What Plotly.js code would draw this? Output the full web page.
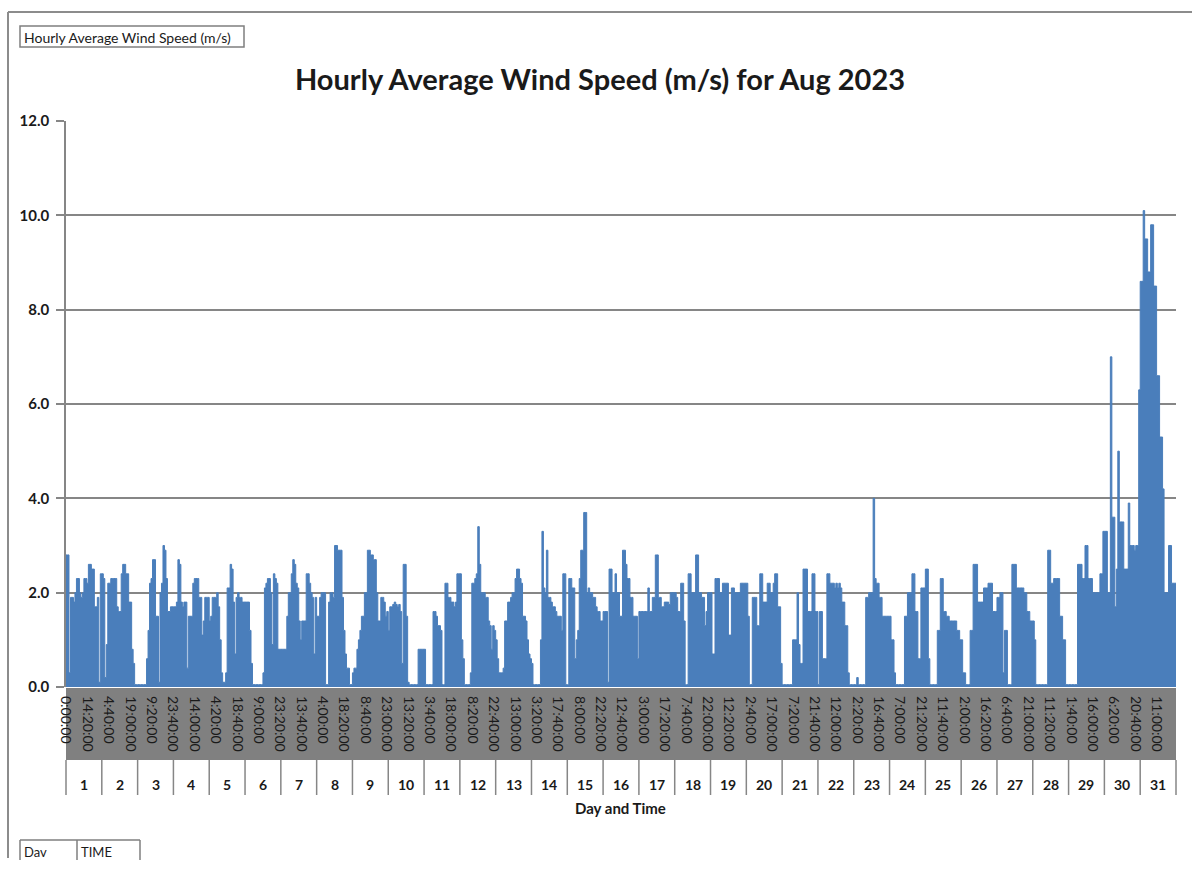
<!DOCTYPE html>
<html><head><meta charset="utf-8">
<script src="https://cdn.plot.ly/plotly-3.0.1.min.js"></script>
<style>html,body{margin:0;padding:0;background:#fff;}#chart{width:1192px;height:871px;}</style>
</head><body><div id="chart"></div>
<script>
// Hourly average wind speed (m/s), 24 values per day, Aug 2023
const day01 = [2.8,2.8,0.3,1.9,1.9,1.8,2.0,2.3,2.3,2.0,1.9,2.0,2.3,2.3,2.2,2.6,2.6,2.5,2.5,1.7,1.7,1.9,0.1,2.4];
const day02 = [2.4,2.3,0.2,0.9,2.2,2.2,2.3,2.3,2.3,2.3,1.7,1.6,1.6,2.4,2.6,2.6,2.4,2.4,1.8,1.8,0.8,0.5,0.05,0.05];
const day03 = [0.05,0.05,0.05,0.05,0.05,0.05,0.6,1.2,2.2,2.3,2.7,2.7,1.5,1.5,0.1,2.0,2.2,3.0,2.9,2.3,1.6,1.6,1.7,1.7];
const day04 = [1.7,1.7,1.8,2.7,2.6,1.8,1.7,1.8,1.8,0.4,1.5,1.5,1.5,2.2,2.3,2.3,2.3,1.9,1.9,1.1,1.4,1.9,1.9,1.9];
const day05 = [1.4,1.5,1.9,1.9,1.9,2.0,1.7,1.0,0.3,0.1,0.1,0.3,2.1,2.1,2.6,2.5,1.8,0.7,1.9,2.0,1.9,1.9,1.8,1.8];
const day06 = [1.8,1.8,1.8,1.2,0.5,0.05,0.05,0.05,0.05,0.05,0.05,0.05,0.3,2.1,2.2,2.3,2.3,2.0,0.9,2.4,2.3,2.2,0.8,0.8];
const day07 = [0.8,0.8,0.8,0.8,1.5,2.0,2.0,2.4,2.7,2.6,2.2,2.1,1.4,1.0,1.4,1.4,1.4,2.4,2.4,2.2,2.0,1.9,0.7,1.9];
const day08 = [1.5,1.5,1.9,2.0,2.0,2.0,0.05,0.05,1.8,2.0,2.0,1.9,3.0,3.0,2.9,2.9,2.9,1.9,1.2,0.7,0.4,0.4,0.05,0.05];
const day09 = [0.3,0.4,0.4,0.8,1.0,1.2,1.5,1.5,2.0,2.0,2.9,2.9,2.8,2.8,2.7,2.7,2.0,1.4,1.4,1.9,1.9,1.8,1.5,1.6];
const day10 = [1.2,1.7,1.7,1.75,1.8,1.75,1.7,1.75,1.6,0.5,2.6,2.6,1.5,0.1,0.05,0.05,0.05,0.05,0.05,0.05,0.8,0.8,0.8,0.8];
const day11 = [0.8,0.05,0.05,0.05,0.05,0.05,1.6,1.6,1.5,1.3,1.3,1.2,0.05,0.05,2.2,2.2,1.9,1.9,1.8,1.8,1.7,1.8,2.4,2.4];
const day12 = [2.4,1.0,0.6,0.05,0.05,0.05,0.05,0.3,2.2,2.2,2.3,2.4,3.4,2.6,2.0,2.0,2.0,1.9,1.9,1.4,1.3,0.8,1.3,1.2];
const day13 = [1.0,0.6,0.3,0.3,0.3,0.4,1.4,1.4,1.8,1.8,1.9,2.0,2.0,2.3,2.5,2.5,2.3,2.2,1.5,1.5,1.4,1.0,0.7,0.6];
const day14 = [0.5,0.05,0.05,0.05,0.05,0.05,1.0,3.3,2.1,2.0,2.9,1.9,1.9,1.8,1.7,1.7,1.6,1.5,1.5,1.5,1.2,2.4,2.4,0.05];
const day15 = [0.05,2.3,2.3,2.1,2.1,0.6,1.0,1.2,2.3,2.9,2.9,3.7,3.7,2.0,2.1,2.0,2.0,1.9,1.9,1.7,1.6,1.6,1.4,1.4];
const day16 = [1.6,1.6,1.6,0.1,2.5,2.5,2.0,2.0,2.4,2.0,2.0,1.5,1.5,2.9,2.9,2.6,2.3,2.3,1.9,1.9,1.5,1.5,1.5,0.6];
const day17 = [1.6,1.6,1.6,1.6,1.6,1.6,2.1,1.6,1.6,1.9,1.9,2.8,2.8,1.9,1.9,1.7,1.7,1.8,1.8,1.8,1.75,2.0,2.0,2.0];
const day18 = [2.0,1.9,1.6,1.6,2.2,2.2,1.4,0.05,0.05,2.4,2.4,2.0,2.0,2.0,2.8,2.8,2.0,2.0,1.9,1.9,1.3,1.6,2.0,2.0];
const day19 = [2.0,0.7,0.7,2.3,2.3,2.3,2.0,2.0,2.2,2.2,2.2,2.2,1.1,1.1,2.1,2.1,2.0,2.0,2.0,2.0,2.2,2.2,2.2,2.2];
const day20 = [2.2,1.5,0.05,0.05,1.9,1.9,1.9,1.3,1.3,2.4,2.4,1.8,1.8,1.8,2.2,2.2,2.0,2.0,2.2,2.4,2.4,1.7,1.7,0.5];
const day21 = [0.05,0.05,0.05,0.05,0.05,0.05,0.05,1.0,1.0,1.0,2.0,0.9,0.5,0.5,2.5,2.5,2.5,1.6,1.6,1.6,2.4,2.4,1.6,1.6];
const day22 = [0.05,1.6,1.6,0.6,0.6,0.6,2.4,2.4,2.2,2.2,2.2,2.1,2.2,2.1,2.2,2.1,1.8,1.8,1.3,1.3,0.3,0.05,0.05,0.05];
const day23 = [0.05,0.05,0.2,0.05,0.05,0.05,0.05,0.05,1.9,1.9,2.0,2.0,2.0,4.0,2.3,2.2,2.2,1.9,1.9,1.5,1.5,1.5,1.5,1.5];
const day24 = [1.5,1.0,1.0,0.3,0.05,0.05,0.05,0.05,0.05,0.05,1.5,1.5,2.0,2.0,2.0,2.4,2.4,1.6,1.6,0.6,0.6,2.1,2.1,2.1];
const day25 = [2.5,2.5,0.6,0.05,0.05,0.05,0.05,0.05,1.2,1.2,2.3,2.3,1.6,1.6,1.5,1.5,1.4,1.4,1.4,1.4,1.4,1.2,1.2,1.0];
const day26 = [1.0,0.3,0.3,0.05,0.05,0.05,1.2,1.2,2.6,2.6,2.6,1.8,1.8,1.8,1.8,2.1,2.1,2.1,2.2,2.2,2.2,1.6,1.6,1.6];
const day27 = [1.9,1.9,2.0,2.0,0.3,1.2,1.2,0.05,0.05,0.05,2.6,2.6,2.6,2.1,2.1,2.1,2.1,2.1,2.0,2.0,1.6,1.6,1.4,1.4];
const day28 = [1.4,1.0,0.05,0.05,0.05,0.05,0.05,0.05,0.05,0.05,2.9,2.9,2.2,2.2,2.3,2.3,2.3,2.3,1.5,1.5,1.0,1.0,0.05,0.05];
const day29 = [0.05,0.05,0.05,0.05,0.05,0.05,2.6,2.6,2.6,2.3,2.3,3.0,3.0,2.3,2.3,2.3,2.0,2.0,2.0,2.0,2.0,2.4,2.4,3.3];
const day30 = [3.3,3.3,2.0,2.0,7.0,3.6,3.6,1.7,2.5,5.0,3.5,3.5,3.5,2.5,2.5,2.5,3.9,3.0,3.0,3.0,2.9,3.0,3.0,6.3];
const day31 = [8.6,8.6,10.1,9.5,9.5,8.8,8.8,9.8,9.8,8.5,8.5,6.6,6.6,5.3,5.3,4.2,2.0,2.0,2.0,3.0,3.0,2.2,2.2,2.2];

const dayLabels = ['1','2','3','4','5','6','7','8','9','10','11','12','13','14','15','16','17','18','19','20','21','22','23','24','25','26','27','28','29','30','31'];
const timeLabels = ['0:00:00','14:20:00','4:40:00','19:00:00','9:20:00','23:40:00','14:00:00','4:20:00','18:40:00','9:00:00',
 '23:20:00','13:40:00','4:00:00','18:20:00','8:40:00','23:00:00','13:20:00','3:40:00','18:00:00','8:20:00',
 '22:40:00','13:00:00','3:20:00','17:40:00','8:00:00','22:20:00','12:40:00','3:00:00','17:20:00','7:40:00',
 '22:00:00','12:20:00','2:40:00','17:00:00','7:20:00','21:40:00','12:00:00','2:20:00','16:40:00','7:00:00',
 '21:20:00','11:40:00','2:00:00','16:20:00','6:40:00','21:00:00','11:20:00','1:40:00','16:00:00','6:20:00',
 '20:40:00','11:00:00'];
const labelStepMinutes = 860;

const titleText = 'Hourly Average Wind Speed (m/s) for Aug 2023';
const seriesName = 'Hourly Average Wind Speed (m/s)';

const allDays = [day01,day02,day03,day04,day05,day06,day07,day08,day09,day10,day11,day12,day13,day14,day15,day16,
 day17,day18,day19,day20,day21,day22,day23,day24,day25,day26,day27,day28,day29,day30,day31];
const speed = allDays.flat();
const xs = speed.map((_, i) => i);
const ys = speed.slice();
xs.push(speed.length); ys.push(speed[speed.length - 1]);
const nHours = speed.length;

const W = 1192, H = 871, L = 66, R = 16, T = 121, B = 184;
const pw = W - L - R, ph = H - T - B;
const px = x => (x - L) / pw;
const py = y => (H - B - y) / ph;

const FONT = 'Lato, "Open Sans", sans-serif';
const TXT = '#1a1a1a';
const GRID = '#868686';

const shapes = [];
const annotations = [];
// grey band behind time labels
shapes.push({type:'rect', xref:'paper', yref:'paper', x0:0, x1:1, y0:py(760), y1:py(688),
  fillcolor:'#808080', line:{width:0}, layer:'below'});
// day separators and day numbers
let hourStart = 0;
allDays.forEach((d, i) => {
  shapes.push({type:'line', xref:'paper', yref:'paper', x0:hourStart/nHours, x1:hourStart/nHours,
    y0:py(795), y1:py(760), line:{color:GRID, width:1.5}});
  annotations.push({xref:'paper', yref:'paper', x:(hourStart + d.length/2)/nHours, y:py(785),
    text:dayLabels[i], showarrow:false, xanchor:'center', yanchor:'middle',
    font:{family:FONT, size:14, weight:'bold', color:TXT}});
  hourStart += d.length;
});
shapes.push({type:'line', xref:'paper', yref:'paper', x0:1, x1:1, y0:py(795), y1:py(760), line:{color:GRID, width:1.5}});
// axis title
annotations.push({xref:'paper', yref:'paper', x:px(620), y:py(808), text:'Day and Time', showarrow:false,
  xanchor:'center', yanchor:'middle', font:{family:FONT, size:15, weight:'bold', color:TXT}});
// outer frame
shapes.push({type:'line', xref:'paper', yref:'paper', x0:px(8), x1:px(1192), y0:py(12), y1:py(12), line:{color:'#8c8c8c', width:2}});
shapes.push({type:'line', xref:'paper', yref:'paper', x0:px(8), x1:px(8), y0:py(12), y1:py(858), line:{color:'#8c8c8c', width:2}});
// series name box top-left
shapes.push({type:'rect', xref:'paper', yref:'paper', x0:px(20), x1:px(244), y0:py(47), y1:py(26),
  line:{color:'#7f7f7f', width:1.5}, fillcolor:'rgba(0,0,0,0)'});
annotations.push({xref:'paper', yref:'paper', x:px(22), y:py(37), text:seriesName, showarrow:false,
  xanchor:'left', yanchor:'middle', font:{family:FONT, size:14, color:TXT}});
// field buttons at bottom
shapes.push({type:'line', xref:'paper', yref:'paper', x0:px(20), x1:px(140), y0:py(840), y1:py(840), line:{color:'#7f7f7f', width:1.5}});
[20, 77, 140].forEach(xv => shapes.push({type:'line', xref:'paper', yref:'paper', x0:px(xv), x1:px(xv),
  y0:py(840), y1:py(860), line:{color:'#7f7f7f', width:1.5}}));
annotations.push({xref:'paper', yref:'paper', x:px(22), y:py(852), text:'Dav', showarrow:false,
  xanchor:'left', yanchor:'middle', font:{family:FONT, size:13, color:TXT}});
annotations.push({xref:'paper', yref:'paper', x:px(79), y:py(852), text:'TIME', showarrow:false,
  xanchor:'left', yanchor:'middle', font:{family:FONT, size:13, color:TXT}});

const tickvals = timeLabels.map((_, k) => k * labelStepMinutes / 60);

const trace = {
  type:'scatter', mode:'lines', x:xs, y:ys, name:seriesName,
  line:{shape:'hv', color:'#4a7ebb', width:1},
  fill:'tozeroy', fillcolor:'#4a7ebb', hoverinfo:'skip'
};

const layout = {
  width:W, height:H,
  margin:{l:L, r:R, t:T, b:B, pad:0},
  paper_bgcolor:'#ffffff', plot_bgcolor:'#ffffff',
  showlegend:false,
  title:{text:titleText, x:600/W, xanchor:'center', y:1 - 80/H, yanchor:'middle',
    font:{family:FONT, size:29, weight:'bold', color:TXT}},
  xaxis:{range:[0, nHours], tickmode:'array', tickvals:tickvals, ticktext:timeLabels, tickangle:90,
    ticks:'', showgrid:false, zeroline:false, showline:false, ticklabelstandoff:8,
    tickfont:{family:FONT, size:14, color:TXT}, fixedrange:true},
  yaxis:{range:[0, 12], tickmode:'linear', tick0:0, dtick:2, tickformat:'.1f',
    ticks:'outside', ticklen:8, tickwidth:1.5, tickcolor:GRID,
    showgrid:true, gridcolor:GRID, gridwidth:1.5, zeroline:false,
    showline:true, linecolor:GRID, linewidth:1.5, ticklabelstandoff:4,
    tickfont:{family:FONT, size:15, weight:'bold', color:TXT}, fixedrange:true},
  shapes:shapes, annotations:annotations
};

Plotly.newPlot('chart', [trace], layout, {displayModeBar:false, responsive:false});
</script>
</body></html>
